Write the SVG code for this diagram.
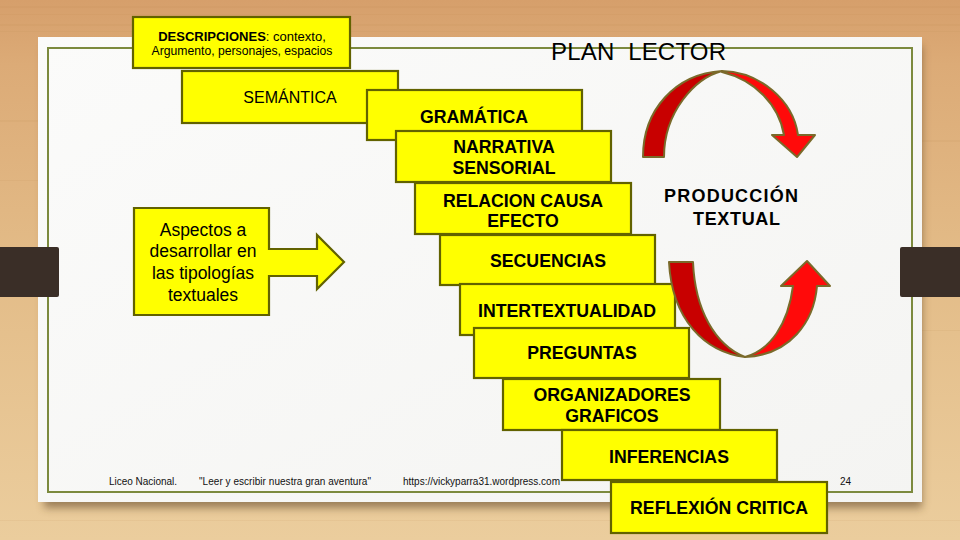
<svg xmlns="http://www.w3.org/2000/svg" width="960" height="540" viewBox="0 0 960 540">
<defs>
<linearGradient id="wood" x1="0" y1="0" x2="0" y2="1">
<stop offset="0" stop-color="#d69f6b"/>
<stop offset="0.12" stop-color="#dcab77"/>
<stop offset="0.5" stop-color="#e3bc88"/>
<stop offset="1" stop-color="#ebcd9d"/>
</linearGradient>
<linearGradient id="paper" x1="0" y1="0" x2="1" y2="1">
<stop offset="0" stop-color="#fbfbfa"/>
<stop offset="1" stop-color="#f4f4f2"/>
</linearGradient>
<filter id="blur" x="-5%" y="-5%" width="110%" height="120%">
<feGaussianBlur stdDeviation="4"/>
</filter>
</defs>
<style>
.box{fill:#ffff00;stroke:#626200;stroke-width:2.2}
.t{font-family:"Liberation Sans",Arial,Helvetica,sans-serif;fill:#000;text-anchor:middle}
.b{font-weight:bold;font-size:17.7px}
.foot{font-family:"Liberation Sans",Arial,Helvetica,sans-serif;font-size:10px;fill:#111}
.dark{fill:#c80000;stroke:#7a6a2a;stroke-width:2;stroke-linejoin:round}
.bright{fill:#ff0a0a;stroke:#7a6a2a;stroke-width:2;stroke-linejoin:round}
.tab{fill:#3a2e27}
.streak{fill:#b98552;opacity:0.1}
</style>

<!-- wood background -->
<rect x="0" y="0" width="960" height="540" fill="url(#wood)"/>
<rect class="streak" x="0" y="6" width="960" height="2"/>
<rect class="streak" x="0" y="14" width="960" height="1"/>
<rect class="streak" x="0" y="24" width="960" height="2"/>
<rect class="streak" x="0" y="31" width="960" height="1"/>
<rect class="streak" x="0" y="120" width="38" height="2"/>
<rect class="streak" x="0" y="180" width="38" height="1"/>
<rect class="streak" x="922" y="140" width="38" height="2"/>
<rect class="streak" x="922" y="330" width="38" height="1"/>
<rect class="streak" x="0" y="520" width="960" height="1"/>

<!-- paper -->
<g id="paper">
<rect x="44" y="46" width="878" height="462" fill="#5a3f22" opacity="0.55" filter="url(#blur)"/>
<rect x="38" y="37" width="884" height="465" fill="url(#paper)"/>
<rect x="48" y="48" width="864" height="444" fill="none" stroke="#7c8a3e" stroke-width="2"/>
</g>

<!-- tabs -->
<rect class="tab" x="-2" y="247" width="61" height="50" rx="2"/>
<rect class="tab" x="900" y="247" width="62" height="50" rx="2"/>

<!-- title -->
<text class="t" x="551" y="60" font-size="24" style="text-anchor:start" textLength="175" lengthAdjust="spacing" xml:space="preserve">PLAN  LECTOR</text>

<!-- footer -->
<g id="footer">
<text class="foot" x="109" y="485" textLength="68" lengthAdjust="spacing">Liceo Nacional.</text>
<text class="foot" x="199" y="485" textLength="172" lengthAdjust="spacing">"Leer y escribir nuestra gran aventura"</text>
<text class="foot" x="403" y="485" textLength="157" lengthAdjust="spacing">https://vickyparra31.wordpress.com</text>
<text class="foot" x="840" y="485">24</text>
</g>

<!-- nodes -->
<g id="descripciones">
<rect class="box" x="133" y="17" width="217" height="51"/>
<text class="t" x="242" y="41" font-size="13"><tspan font-weight="bold">DESCRIPCIONES</tspan>: contexto,</text>
<text class="t" x="242" y="55" font-size="12.2">Argumento, personajes, espacios</text>
</g>

<g id="semantica">
<rect class="box" x="182" y="71" width="216" height="52"/>
<text class="t" x="290" y="103" font-size="16">SEMÁNTICA</text>
</g>

<g id="gramatica">
<rect class="box" x="367" y="90" width="215" height="50"/>
<text class="t b" x="474" y="123">GRAMÁTICA</text>
</g>

<g id="narrativa">
<rect class="box" x="396" y="131" width="215" height="51"/>
<text class="t b" x="504" y="153">NARRATIVA</text>
<text class="t b" x="504" y="174">SENSORIAL</text>
</g>

<g id="relacion">
<rect class="box" x="415" y="183" width="216" height="51"/>
<text class="t b" x="523" y="207">RELACION CAUSA</text>
<text class="t b" x="523" y="227">EFECTO</text>
</g>

<g id="secuencias">
<rect class="box" x="440" y="235" width="215" height="50"/>
<text class="t b" x="548" y="267">SECUENCIAS</text>
</g>

<g id="intertextualidad">
<rect class="box" x="460" y="284" width="215" height="51"/>
<text class="t b" x="567" y="317">INTERTEXTUALIDAD</text>
</g>

<g id="preguntas">
<rect class="box" x="474" y="328" width="215" height="50"/>
<text class="t b" x="582" y="359">PREGUNTAS</text>
</g>

<g id="organizadores">
<rect class="box" x="503" y="379" width="217" height="51"/>
<text class="t b" x="612" y="401">ORGANIZADORES</text>
<text class="t b" x="612" y="422">GRAFICOS</text>
</g>

<g id="inferencias">
<rect class="box" x="562" y="430" width="215" height="50"/>
<text class="t b" x="669" y="463">INFERENCIAS</text>
</g>

<g id="reflexion">
<rect class="box" x="611" y="482" width="216" height="51"/>
<text class="t b" x="719" y="514">REFLEXIÓN CRITICA</text>
</g>

<g id="aspectos">
<path class="box" d="M134 208 H269 V249 H317 V235 L344 262 L317 289 V276 H269 V315 H134 Z"/>
<text class="t" x="203" y="236" font-size="17.5">Aspectos a</text>
<text class="t" x="203" y="257" font-size="17.5">desarrollar en</text>
<text class="t" x="203" y="279" font-size="17.5">las tipologías</text>
<text class="t" x="203" y="301" font-size="17.5">textuales</text>
</g>

<g id="produccion">
<text class="t" x="664" y="202" font-size="18" font-weight="bold" style="text-anchor:start" textLength="134" lengthAdjust="spacing">PRODUCCIÓN</text>
<text class="t" x="693" y="225" font-size="18" font-weight="bold" style="text-anchor:start" textLength="87" lengthAdjust="spacing">TEXTUAL</text>
</g>

<!-- connectors: curved cycle arrows -->
<g id="connectors">
<path class="dark" d="M643 157 C643 110 675 74 722 71 C695 78 664 112 664 157 Z"/>
<path class="bright" d="M722 71 C760 72 793 100 798 135 L815 135 L797 157 L772 135 L784 135 C779 105 755 80 722 72 Z"/>
<path class="dark" d="M669 262 L693 262 C695 310 715 345 745 357 C705 352 672 320 669 262 Z"/>
<path class="bright" d="M745 357 C790 355 814 322 817 286 L830 286 L807 261 L781 286 L793 286 C788 325 770 350 745 357 Z"/>
</g>
</svg>
